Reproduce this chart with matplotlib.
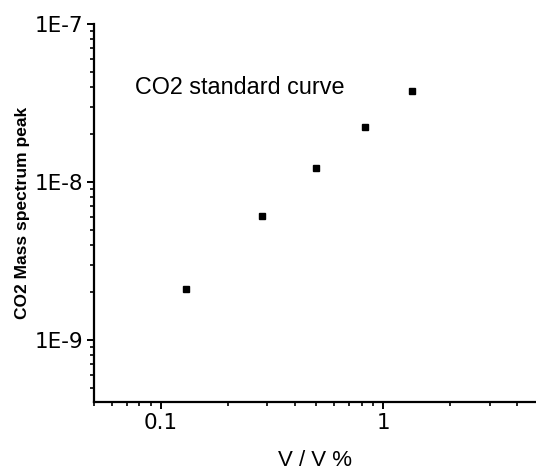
import matplotlib.pyplot as plt
from matplotlib.ticker import LogLocator, NullFormatter, FixedLocator, FixedFormatter

# CO2 standard curve data
conc = [0.129, 0.284, 0.499, 0.822, 1.34]
peak = [2.1e-9, 6.07e-9, 1.22e-8, 2.23e-8, 3.77e-8]

xticks = [0.1, 1]
xticklabels = ['0.1', '1']
yticks = [1e-9, 1e-8, 1e-7]
yticklabels = ['1E-9', '1E-8', '1E-7']

narrow = ['Liberation Sans Narrow', 'DejaVu Sans']
plain = ['Liberation Sans', 'DejaVu Sans']

fig = plt.figure(figsize=(5.36, 4.71), dpi=100)
ax = fig.add_axes([0.1754, 0.1465, 0.8228, 0.8025])

ax.plot(conc, peak, 's', color='black', markersize=5)

ax.set_xscale('log')
ax.set_yscale('log')
ax.set_xlim(0.05, 4.8)
ax.set_ylim(4.05e-10, 1e-7)

ax.xaxis.set_major_locator(FixedLocator(xticks))
ax.xaxis.set_major_formatter(FixedFormatter(xticklabels))
ax.yaxis.set_major_locator(FixedLocator(yticks))
ax.yaxis.set_major_formatter(FixedFormatter(yticklabels))
ax.xaxis.set_minor_locator(LogLocator(base=10, subs=range(2, 10)))
ax.yaxis.set_minor_locator(LogLocator(base=10, subs=range(2, 10)))
ax.xaxis.set_minor_formatter(NullFormatter())
ax.yaxis.set_minor_formatter(NullFormatter())

for s in ['top', 'right']:
    ax.spines[s].set_visible(False)
for s in ['left', 'bottom']:
    ax.spines[s].set_linewidth(1.6)

ax.tick_params(which='major', direction='out', length=5, width=1.4, pad=3)
ax.tick_params(which='minor', direction='out', length=3, width=1.2)
for lab in ax.get_xticklabels() + ax.get_yticklabels():
    lab.set_family(narrow)
    lab.set_fontsize(15.5)

ax.set_xlabel('V / V %', fontsize=16, family=plain, labelpad=12)
ax.set_ylabel('CO2 Mass spectrum peak', fontsize=12.5, family=plain,
              fontweight='bold')
ax.yaxis.set_label_coords(-0.145, 0.5)

# title-like note inside the plot
fig.text(135 / 536, 1 - 87 / 471, 'CO2 standard curve', fontsize=16.8,
         family=plain, va='center', ha='left')

fig.savefig('out.png', dpi=100)
